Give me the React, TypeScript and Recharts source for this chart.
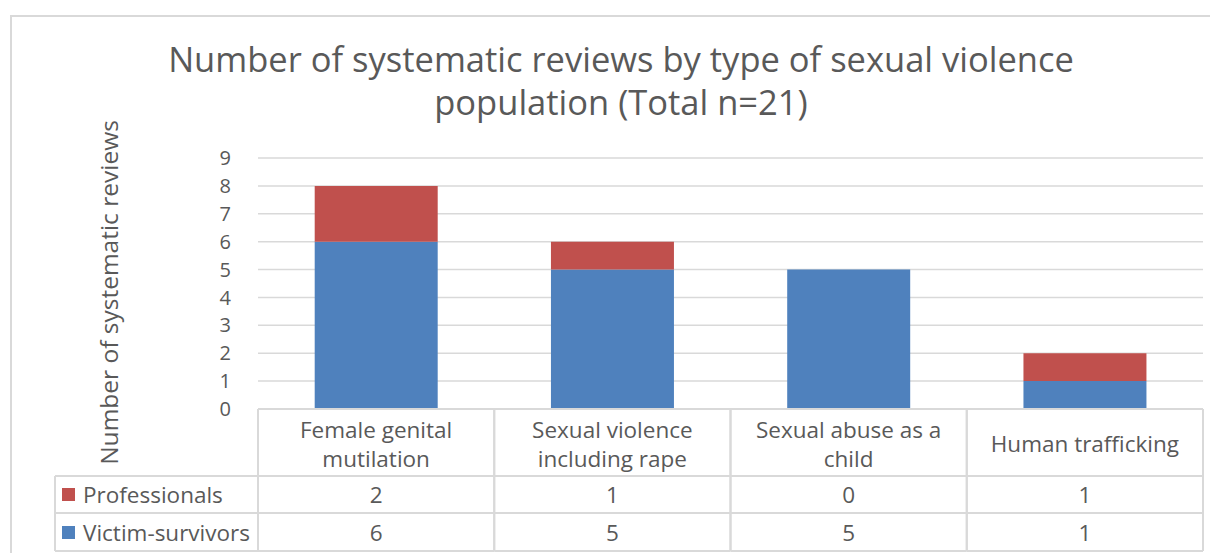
import React from 'react';
import { BarChart, Bar, XAxis, YAxis, CartesianGrid } from 'recharts';

const categories = ['Female genital mutilation', 'Sexual violence including rape', 'Sexual abuse as a child', 'Human trafficking'];
const professionals = [2, 1, 0, 1];
const victimSurvivors = [6, 5, 5, 1];
const yTicks = [0, 1, 2, 3, 4, 5, 6, 7, 8, 9];

const seriesInfo = [
  { key: 'professionals', name: 'Professionals', color: '#C0504D', values: professionals },
  { key: 'victims', name: 'Victim-survivors', color: '#4F81BD', values: victimSurvivors },
];

const data = categories.map((c, i) => ({
  category: c,
  victims: victimSurvivors[i],
  professionals: professionals[i],
}));

const FONT = '"Open Sans", sans-serif';
const TEXT = '#595959';
const LINE = '#d9d9d9';
const W = 1210;
const H = 545;
const PLOT_LEFT = 250;
const PLOT_RIGHT = 15;
const COL_W = (W - PLOT_LEFT - PLOT_RIGHT) / categories.length;
const LEGEND_W = 203;
const FS = 22.5;

// wrap category labels like the spreadsheet does
function wrap(label: string, max = 17) {
  const words = label.split(' ');
  const lines: string[] = [];
  let cur = '';
  words.forEach(w => {
    const next = cur ? cur + ' ' + w : w;
    if (next.length > max && cur) {
      lines.push(cur);
      cur = w;
    } else cur = next;
  });
  if (cur) lines.push(cur);
  return lines;
}

function TableTick(props: any) {
  const { x, y, payload, index } = props;
  const left = x - COL_W / 2;
  const right = x + COL_W / 2;
  const lines = wrap(payload.value);
  const rows = [67, 104, 142];
  const rowMid = [85, 123];
  return (
    <g>
      <line x1={left} x2={left} y1={y} y2={y + 142} stroke={LINE} strokeWidth={2} />
      <line x1={right} x2={right} y1={y} y2={y + 142} stroke={LINE} strokeWidth={2} />
      {rows.map(r => (
        <line key={r} x1={left} x2={right} y1={y + r} y2={y + r} stroke={LINE} strokeWidth={2} />
      ))}
      {lines.map((l, j) => (
        <text key={j} x={x} y={y + (lines.length === 1 ? 34 : 20 + j * 29)} textAnchor="middle"
          dominantBaseline="central" fill={TEXT} fontSize={FS} fontFamily={FONT}>{l}</text>
      ))}
      {seriesInfo.map((s, j) => (
        <text key={s.key} x={x} y={y + rowMid[j]} textAnchor="middle" dominantBaseline="central"
          fill={TEXT} fontSize={FS} fontFamily={FONT}>{s.values[index]}</text>
      ))}
      {index === 0 && (
        <g>
          <line x1={left - LEGEND_W} x2={left - LEGEND_W} y1={y + 67} y2={y + 142} stroke={LINE} strokeWidth={2} />
          {rows.map(r => (
            <line key={r} x1={left - LEGEND_W} x2={left} y1={y + r} y2={y + r} stroke={LINE} strokeWidth={2} />
          ))}
          {seriesInfo.map((s, j) => (
            <g key={s.key}>
              <rect x={left - LEGEND_W + 7} y={y + rowMid[j] - 6} width={13} height={13} fill={s.color} />
              <text x={left - LEGEND_W + 28} y={y + rowMid[j]} dominantBaseline="central"
                fill={TEXT} fontSize={FS} fontFamily={FONT}>{s.name}</text>
            </g>
          ))}
        </g>
      )}
    </g>
  );
}

function YLabel(props: any) {
  const { viewBox } = props;
  const cy = viewBox.y + viewBox.height / 2 + 9;
  return (
    <text x={100} y={cy} transform={`rotate(-90, 100, ${cy})`} textAnchor="middle" dominantBaseline="central"
      fill={TEXT} fontSize={24.5} fontFamily={FONT}>Number of systematic reviews</text>
  );
}

export default function App() {
  return (
    <div style={{ position: 'relative', width: W, height: H, background: '#fff', overflow: 'hidden' }}>
      <div style={{ position: 'absolute', left: 2, top: 7, width: W, height: H, borderLeft: `2px solid ${LINE}`, borderTop: `2px solid ${LINE}` }} />
      <div style={{ position: 'absolute', left: 0, top: 29, width: 1226, textAlign: 'center', fontFamily: FONT, fontSize: 34.5, lineHeight: '43px', color: TEXT }}>
        Number of systematic reviews by type of sexual violence<br />population (Total n=21)
      </div>
      <div style={{ position: 'absolute', left: 0, top: 0 }}>
        <BarChart width={W} height={H} data={data} margin={{ top: 150, right: PLOT_RIGHT, left: 0, bottom: 0 }} barCategoryGap="24%">
          <CartesianGrid vertical={false} stroke={LINE} strokeWidth={1.5} />
          <XAxis dataKey="category" height={144} tickLine={false} tickSize={0} tickMargin={0}
            axisLine={{ stroke: LINE, strokeWidth: 2 }} tick={<TableTick />} interval={0} />
          <YAxis width={PLOT_LEFT} domain={[0, 9]} ticks={yTicks} interval={0} axisLine={false} tickLine={false} tickSize={0} tickMargin={27}
            tick={{ fill: TEXT, fontSize: 20, fontFamily: FONT }} label={<YLabel />} />
          <Bar dataKey="victims" stackId="a" fill="#4F81BD" isAnimationActive={false} />
          <Bar dataKey="professionals" stackId="a" fill="#C0504D" isAnimationActive={false} />
        </BarChart>
      </div>
    </div>
  );
}
